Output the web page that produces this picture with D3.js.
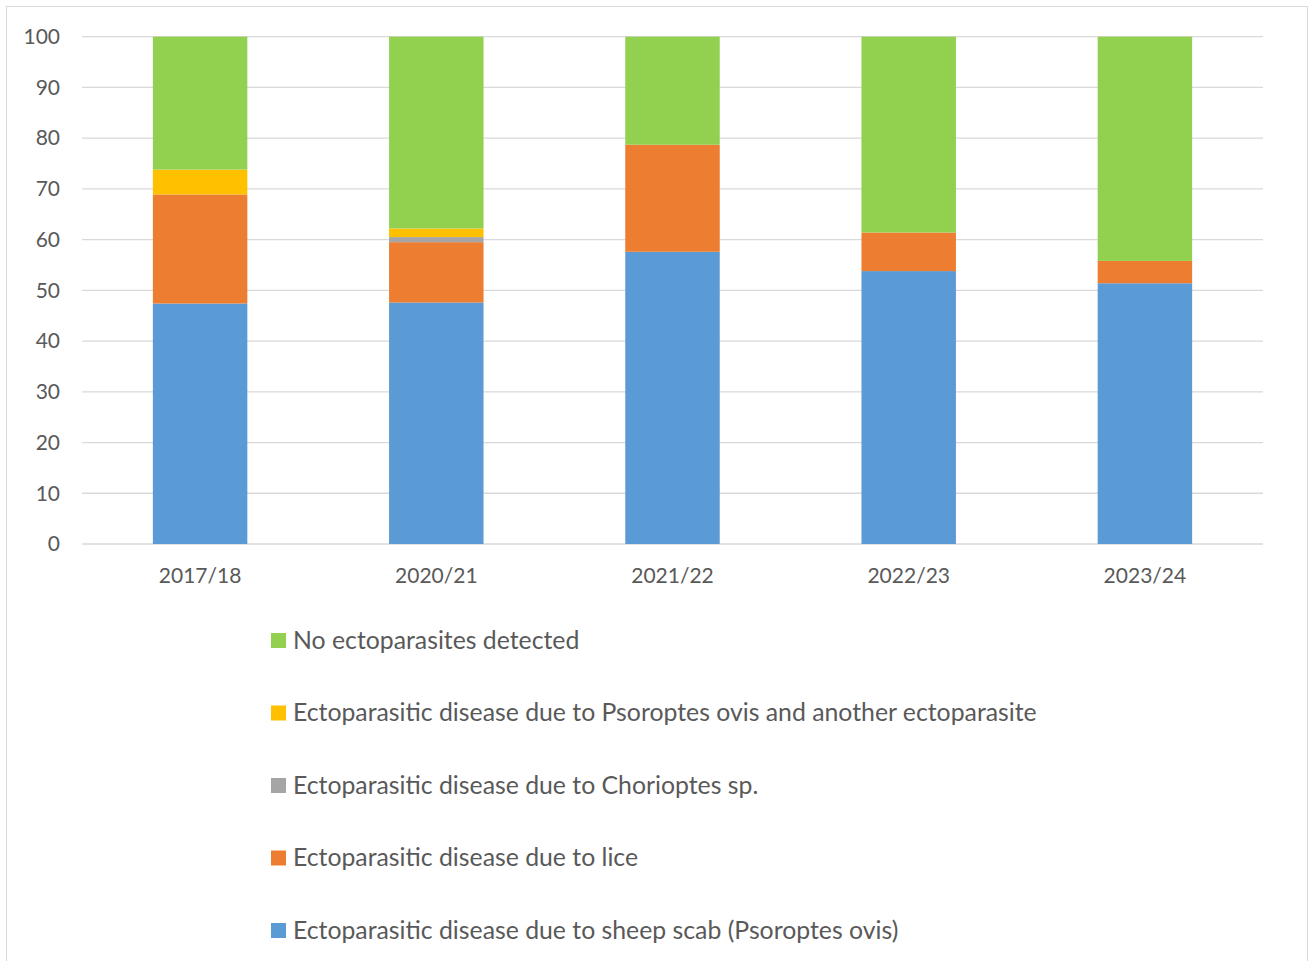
<!DOCTYPE html>
<html>
<head>
<meta charset="utf-8">
<script src="https://cdn.jsdelivr.net/npm/d3@7"></script>
<style>
  body { margin: 0; background: #fff; }
  svg { display: block; }
</style>
</head>
<body>
<svg></svg>
<script>
var years = ["2017/18", "2020/21", "2021/22", "2022/23", "2023/24"];

var seriesNames = [
    "Ectoparasitic disease due to sheep scab (Psoroptes ovis)",
    "Ectoparasitic disease due to lice",
    "Ectoparasitic disease due to Chorioptes sp.",
    "Ectoparasitic disease due to Psoroptes ovis and another ectoparasite",
    "No ectoparasites detected"
];

var scab = [47.4, 47.6, 57.6, 53.8, 51.4];
var lice = [21.5, 11.9, 21.1, 7.6, 4.4];
var chorioptes = [0, 1.0, 0, 0, 0];
var mixed = [4.9, 1.7, 0, 0, 0];
var none = [26.2, 37.8, 21.3, 38.6, 44.2];

var yTicks = [0, 10, 20, 30, 40, 50, 60, 70, 80, 90, 100];

var colors = ["#5B9BD5", "#ED7D31", "#A5A5A5", "#FFC000", "#92D050"];

var table = years.map(function(yr, i) {
    return {
        year: yr,
        s0: scab[i],
        s1: lice[i],
        s2: chorioptes[i],
        s3: mixed[i],
        s4: none[i]
    };
});
var keys = ["s0", "s1", "s2", "s3", "s4"];

const svgWidth = 1312,
    svgHeight = 961;

var margin = { top: 36.7, left: 82, right: 49, bottom: 417 };
var width = svgWidth - margin.left - margin.right;
var height = svgHeight - margin.top - margin.bottom;

var svg = d3.select("svg")
    .attr("width", svgWidth)
    .attr("height", svgHeight);

// chart frame
svg.append("rect")
    .attr("x", 6.5)
    .attr("y", 6.5)
    .attr("width", 1301)
    .attr("height", 980)
    .attr("fill", "none")
    .attr("stroke", "#d9d9d9")
    .attr("stroke-width", 1);

var g = svg.append("g")
    .attr("transform", "translate(" + margin.left + "," + margin.top + ")");

var x = d3.scaleBand()
    .domain(years)
    .range([0, width])
    .paddingInner(0.6)
    .paddingOuter(0.3);

var y = d3.scaleLinear()
    .domain([0, 100])
    .range([height, 0]);

// gridlines
g.append("g")
    .selectAll("line")
    .data(yTicks)
    .enter()
    .append("line")
    .attr("x1", 0)
    .attr("x2", width)
    .attr("y1", d => y(d))
    .attr("y2", d => y(d))
    .attr("stroke", "#d9d9d9")
    .attr("stroke-width", 1.3);

var stack = d3.stack().keys(keys);
var layers = stack(table);

g.selectAll(".layer")
    .data(layers)
    .enter()
    .append("g")
    .attr("class", "layer")
    .attr("fill", (d, i) => colors[i])
    .selectAll("rect")
    .data(d => d)
    .enter()
    .append("rect")
    .attr("x", d => x(d.data.year))
    .attr("width", x.bandwidth())
    .attr("y", d => y(d[1]))
    .attr("height", d => y(d[0]) - y(d[1]));

// axes
var yAxis = d3.axisLeft(y).tickValues(yTicks).tickSize(0).tickPadding(22);
var xAxis = d3.axisBottom(x).tickSize(0).tickPadding(22);

var yg = g.append("g").call(yAxis);
var xg = g.append("g").attr("transform", "translate(0," + height + ")").call(xAxis);

g.selectAll(".domain").remove();

g.selectAll(".tick text")
    .attr("font-family", "Lato, 'Open Sans', sans-serif")
    .attr("font-size", 21)
    .attr("fill", "#595959");

xg.selectAll(".tick text").attr("dy", "0.71em").attr("y", 24);

// legend (listed top to bottom in reverse order)
var legendOrder = [4, 3, 2, 1, 0];
var legend = svg.append("g")
    .selectAll("g")
    .data(legendOrder)
    .enter()
    .append("g")
    .attr("transform", (d, i) => "translate(271," + (640 + i * 72.5) + ")");

legend.append("rect")
    .attr("x", 0)
    .attr("y", -7)
    .attr("width", 15)
    .attr("height", 15)
    .attr("fill", d => colors[d]);

legend.append("text")
    .attr("x", 22)
    .attr("y", 0)
    .attr("dy", "0.35em")
    .attr("font-family", "Lato, 'Open Sans', sans-serif")
    .attr("font-size", 24.8)
    .attr("fill", "#595959")
    .text(d => seriesNames[d]);
</script>
</body>
</html>
